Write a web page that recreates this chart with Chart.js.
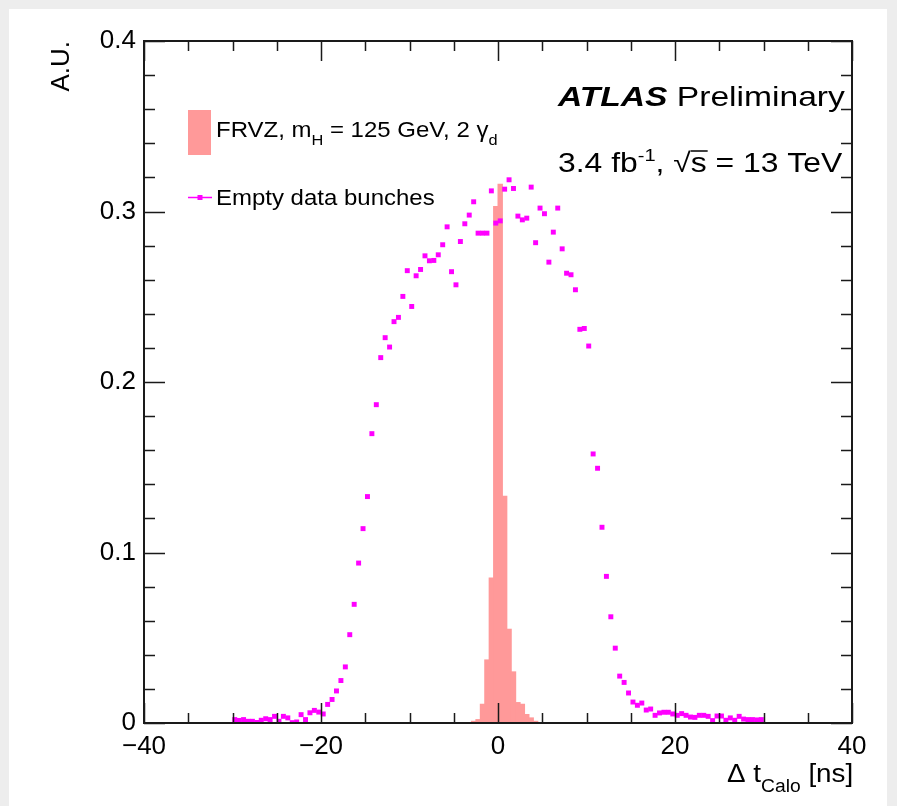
<!DOCTYPE html>
<html>
<head>
<meta charset="utf-8">
<title>Delta t Calo</title>
<script src="https://cdn.jsdelivr.net/npm/chart.js@4.4.1/dist/chart.umd.min.js"></script>
<style>
  html, body { margin: 0; padding: 0; background: #ededed; }
  canvas { display: block; }
</style>
</head>
<body>
<canvas id="chart" width="897" height="806"></canvas>
<script>
// ---- axis ranges and ticks ----
const xMin = -40, xMax = 40;
const yMin = 0, yMax = 0.4;
const xTickStep = 20, xMinorStep = 5;
const yTickStep = 0.1, yMinorStep = 0.02;

// ---- FRVZ signal MC, 0.5 ns bins (bin centres) ----
const sigBinCenters = [-2.75, -2.25, -1.75, -1.25, -0.75, -0.25, 0.25, 0.75,
  1.25, 1.75, 2.25, 2.75, 3.25, 3.75, 4.25];
const sigValues = [0.001, 0.002, 0.011, 0.037, 0.085, 0.303, 0.316, 0.133,
  0.055, 0.030, 0.012, 0.011, 0.005, 0.003, 0.001];

// ---- empty data bunches, 0.5 ns bins from -30 to 30 ns ----
const binWidth = 0.5;
const bkgFirstCenter = -29.75;
const bkgValues = [
  0.0020, 0.0015, 0.0020, 0.0010, 0.0010, 0.0003, 0.0016, 0.0025, 0.0020, 0.0039,
  0.0010, 0.0039, 0.0030, 0.0002, 0.0006, 0.0049, 0.0020, 0.0060, 0.0074, 0.0064,
  0.0053, 0.0109, 0.0138, 0.0188, 0.0249, 0.0329, 0.0518, 0.0696, 0.0938, 0.1140,
  0.1328, 0.1697, 0.1867, 0.2143, 0.2260, 0.2205, 0.2354, 0.2379, 0.2502, 0.2653,
  0.2443, 0.2623, 0.2660, 0.2740, 0.2711, 0.2713, 0.2746, 0.2805, 0.2910, 0.2647,
  0.2570, 0.2824, 0.2928, 0.2979, 0.3057, 0.2873, 0.2873, 0.2873, 0.3121, 0.2932,
  0.2945, 0.3131, 0.3186, 0.3135, 0.2973, 0.2951, 0.2961, 0.3143, 0.2817, 0.3020,
  0.2987, 0.2703, 0.2879, 0.3020, 0.2781, 0.2638, 0.2629, 0.2541, 0.2309, 0.2314,
  0.2211, 0.1578, 0.1494, 0.1148, 0.0860, 0.0623, 0.0439, 0.0275, 0.0238, 0.0176,
  0.0123, 0.0104, 0.0117, 0.0076, 0.0082, 0.0045, 0.0059, 0.0063, 0.0063, 0.0053,
  0.0045, 0.0055, 0.0045, 0.0035, 0.0033, 0.0045, 0.0045, 0.0039, 0.0014, 0.0041,
  0.0041, 0.0016, 0.0030, 0.0016, 0.0039, 0.0023, 0.0020, 0.0020, 0.0018, 0.0020
];

const sigColor = 'rgb(255, 153, 153)';
const bkgColor = '#ff00ff';
const fontFamily = '"Liberation Sans", Arial, Helvetica, sans-serif';

const sigPoints = sigBinCenters.map((x, i) => ({ x, y: sigValues[i] }));
const bkgPoints = bkgValues.map((y, i) => ({ x: bkgFirstCenter + i * binWidth, y }));

// draw a run of text pieces (for sub/superscripts); sx widens the glyphs
function drawRich(ctx, x, y, parts, sx = 1.1) {
  parts.forEach(p => {
    ctx.font = p.font;
    ctx.save();
    ctx.translate(x, y + (p.dy || 0));
    ctx.scale(sx, 1);
    ctx.fillText(p.text, 0, 0);
    ctx.restore();
    const w = ctx.measureText(p.text).width * sx;
    if (p.overline) {
      ctx.save();
      ctx.lineWidth = 1.5;
      ctx.beginPath();
      ctx.moveTo(x, y + p.overline);
      ctx.lineTo(x + w + 1, y + p.overline);
      ctx.stroke();
      ctx.restore();
    }
    x += w;
  });
  return x;
}

const f = (size, style = '') => `${style} ${size}px ${fontFamily}`.trim();

const background = {
  id: 'background',
  beforeDraw(chart) {
    const { ctx, width, height } = chart;
    ctx.save();
    ctx.fillStyle = '#ededed';
    ctx.fillRect(0, 0, width, height);
    ctx.fillStyle = '#ffffff';
    ctx.fillRect(9, 9, width - 19, height - 9);
    ctx.restore();
  }
};

// ROOT style frame with inward ticks on all four sides
const frameAndTicks = {
  id: 'frameAndTicks',
  afterDatasetsDraw(chart) {
    const { ctx, chartArea: a, scales: { x, y } } = chart;
    ctx.save();
    ctx.strokeStyle = '#1a1a1a';
    ctx.lineWidth = 1.5;
    ctx.beginPath();
    const nx = Math.round((xMax - xMin) / xMinorStep);
    for (let i = 0; i <= nx; i++) {
      const v = xMin + i * xMinorStep;
      const px = Math.round(x.getPixelForValue(v)) + 0.5;
      const len = (v % xTickStep === 0) ? 20 : 10;
      ctx.moveTo(px, a.bottom); ctx.lineTo(px, a.bottom - len);
      ctx.moveTo(px, a.top); ctx.lineTo(px, a.top + len);
    }
    const ny = Math.round((yMax - yMin) / yMinorStep);
    for (let i = 0; i <= ny; i++) {
      const v = yMin + i * yMinorStep;
      const py = Math.round(y.getPixelForValue(v)) + 0.5;
      const len = (i % 5 === 0) ? 21 : 11;
      ctx.moveTo(a.left, py); ctx.lineTo(a.left + len, py);
      ctx.moveTo(a.right, py); ctx.lineTo(a.right - len, py);
    }
    ctx.stroke();
    ctx.lineWidth = 2;
    ctx.strokeRect(a.left, a.top, a.right - a.left, a.bottom - a.top);
    ctx.restore();
  }
};

// legend, ATLAS label and x axis title
const annotations = {
  id: 'annotations',
  afterDraw(chart) {
    const { ctx } = chart;
    ctx.save();
    ctx.fillStyle = '#000';
    ctx.strokeStyle = '#000';
    ctx.textBaseline = 'alphabetic';
    ctx.textAlign = 'left';

    // legend: signal box
    ctx.fillStyle = sigColor;
    ctx.fillRect(188, 110, 23, 45);
    ctx.fillStyle = '#000';
    drawRich(ctx, 216, 137, [
      { text: 'FRVZ, m', font: f(22) },
      { text: 'H', font: f(15), dy: 8 },
      { text: ' = 125 GeV, 2 \u03b3', font: f(22) },
      { text: 'd', font: f(15), dy: 8 }
    ], 1.09);

    // legend: empty bunches marker
    ctx.strokeStyle = bkgColor;
    ctx.lineWidth = 1.5;
    ctx.beginPath();
    ctx.moveTo(188, 197.5); ctx.lineTo(212, 197.5);
    ctx.stroke();
    ctx.fillStyle = bkgColor;
    ctx.fillRect(197.5, 195, 5, 5);
    ctx.fillStyle = '#000';
    ctx.strokeStyle = '#000';
    drawRich(ctx, 216, 205, [{ text: 'Empty data bunches', font: f(22) }], 1.09);

    // ATLAS label
    drawRich(ctx, 558, 106, [
      { text: 'ATLAS', font: f(28, 'italic bold') },
      { text: ' Preliminary', font: f(28) }
    ], 1.2);
    drawRich(ctx, 558, 172, [
      { text: '3.4 fb', font: f(27) },
      { text: '-1', font: f(17), dy: -11 },
      { text: ', ', font: f(27) },
      { text: '\u221a', font: f(27) },
      { text: 's', font: f(27), overline: -21 },
      { text: ' = 13 TeV', font: f(27) }
    ], 1.18);

    // x axis title
    drawRich(ctx, 727, 782, [
      { text: '\u0394 t', font: f(26) },
      { text: 'Calo', font: f(18), dy: 10 },
      { text: ' [ns]', font: f(26) }
    ], 1.07);
    ctx.restore();
  }
};

new Chart(document.getElementById('chart'), {
  type: 'bar',
  data: {
    datasets: [
      {
        type: 'line',
        label: 'Empty data bunches',
        data: bkgPoints,
        showLine: false,
        pointStyle: 'rect',
        pointRadius: 3.5,
        pointBackgroundColor: bkgColor,
        pointBorderWidth: 0,
        order: 0
      },
      {
        type: 'bar',
        label: 'FRVZ',
        data: sigPoints,
        backgroundColor: sigColor,
        borderWidth: 0,
        barPercentage: 1,
        categoryPercentage: 1,
        inflateAmount: 0.5,
        order: 1
      }
    ]
  },
  options: {
    responsive: false,
    animation: false,
    devicePixelRatio: 1,
    layout: { padding: { top: 41, right: 45, left: 0, bottom: 0 } },
    plugins: { legend: { display: false }, tooltip: { enabled: false } },
    scales: {
      x: {
        type: 'linear',
        min: xMin,
        max: xMax,
        offset: false,
        grid: { display: false, drawTicks: false },
        border: { display: false },
        ticks: {
          stepSize: xTickStep,
          autoSkip: false,
          maxRotation: 0,
          padding: 8,
          color: '#000',
          font: { family: fontFamily, size: 26 },
          callback: v => (v < 0 ? '\u2212' + Math.abs(v) : String(v))
        },
        afterFit: s => { s.height = 83; }
      },
      y: {
        min: yMin,
        max: yMax,
        grid: { display: false, drawTicks: false },
        border: { display: false },
        ticks: {
          stepSize: yTickStep,
          padding: 8,
          color: '#000',
          font: { family: fontFamily, size: 26 },
          callback: v => (Math.abs(v) < 1e-9 ? '0' : v.toFixed(1))
        },
        title: {
          display: true,
          text: 'A.U.',
          align: 'end',
          color: '#000',
          font: { family: fontFamily, size: 26 },
          padding: { top: 46, bottom: 0 }
        },
        afterFit: s => { s.width = 144; }
      }
    }
  },
  plugins: [background, frameAndTicks, annotations]
});
</script>
</body>
</html>
